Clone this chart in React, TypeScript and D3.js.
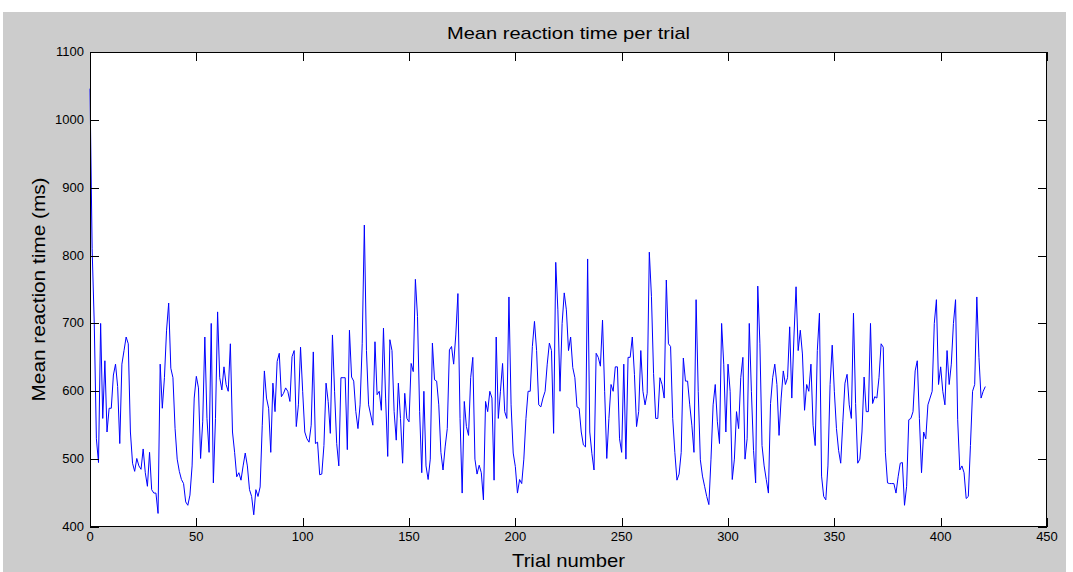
import React, { useEffect, useRef } from 'react';
import * as d3 from 'd3';

// mean reaction time (ms) per trial in blocks of ~40 trials
const rtTrials0to37 = [
  1046, 810, 700, 530, 495, 700, 560, 645, 540, 575,
  575, 624, 640, 607, 523, 640, 660, 680, 670, 540,
  494, 482, 501, 490, 485, 515, 480, 460, 510, 455,
  450, 450, 420, 640, 575, 620, 690, 730];
const rtTrials38to75 = [
  634, 620, 545, 500, 482, 470, 464, 437, 432, 447,
  490, 590, 622, 605, 501, 555, 680, 560, 510, 700,
  465, 560, 717, 620, 602, 636, 610, 600, 670, 540,
  510, 474, 480, 469, 490, 509, 490, 455];
const rtTrials76to113 = [
  445, 418, 455, 445, 459, 550, 630, 590, 575, 510,
  612, 570, 644, 656, 592, 597, 605, 600, 585, 651,
  660, 548, 580, 665, 600, 540, 530, 525, 550, 658,
  523, 525, 477, 478, 520, 612, 585, 538];
const rtTrials114to152 = [
  683, 600, 523, 490, 620, 620, 620, 514, 690, 621,
  615, 570, 545, 580, 670, 845, 660, 580, 565, 550,
  673, 595, 600, 572, 693, 590, 504, 676, 660, 570,
  528, 612, 560, 494, 597, 560, 555, 641, 629];
const rtTrials153to191 = [
  765, 710, 570, 480, 600, 490, 470, 500, 671, 617,
  615, 580, 510, 484, 518, 545, 661, 666, 640, 683,
  744, 560, 450, 585, 548, 535, 620, 650, 500, 478,
  491, 480, 440, 585, 570, 600, 590, 469, 680];
const rtTrials192to230 = [
  560, 600, 641, 570, 560, 739, 580, 509, 489, 450,
  470, 464, 500, 560, 600, 600, 666, 703, 660, 580,
  577, 590, 600, 640, 671, 660, 538, 790, 720, 600,
  700, 745, 720, 660, 680, 635, 620, 577, 575];
const rtTrials231to268 = [
  540, 521, 518, 795, 540, 508, 484, 656, 650, 637,
  705, 600, 501, 560, 610, 600, 636, 636, 530, 510,
  640, 500, 650, 650, 680, 625, 548, 570, 660, 600,
  580, 597, 805, 740, 626, 560, 560, 620];
const rtTrials269to306 = [
  610, 590, 764, 670, 666, 560, 510, 469, 478, 510,
  649, 615, 615, 580, 550, 510, 735, 600, 499, 475,
  460, 445, 433, 500, 580, 610, 555, 523, 700, 640,
  540, 640, 600, 470, 500, 570, 545, 620];
const rtTrials307to345 = [
  650, 500, 530, 700, 600, 513, 465, 755, 670, 520,
  490, 470, 450, 582, 620, 640, 610, 535, 590, 630,
  610, 620, 695, 590, 680, 754, 660, 690, 655, 572,
  610, 600, 640, 550, 520, 660, 715, 475, 445];
const rtTrials346to384 = [
  440, 490, 610, 668, 600, 545, 513, 494, 555, 612,
  625, 580, 560, 715, 582, 494, 500, 540, 621, 570,
  570, 700, 582, 592, 590, 620, 670, 665, 510, 465,
  464, 464, 464, 450, 474, 494, 495, 432, 460];
const rtTrials385to421 = [
  558, 560, 570, 630, 645, 560, 480, 540, 530, 580,
  590, 600, 700, 735, 610, 636, 600, 580, 660, 610,
  640, 700, 735, 558, 484, 490, 480, 442, 445, 520,
  600, 610, 739, 650, 590, 600, 607];

const xTicks = [0, 50, 100, 150, 200, 250, 300, 350, 400, 450];
const yTicks = [400, 500, 600, 700, 800, 900, 1000, 1100];

const title = 'Mean reaction time per trial';
const xLabel = 'Trial number';
const yLabel = 'Mean reaction time (ms)';

const App = () => {
  const ref = useRef<SVGSVGElement>(null);

  useEffect(() => {
    const rt = [].concat(
      rtTrials0to37, rtTrials38to75, rtTrials76to113, rtTrials114to152,
      rtTrials153to191, rtTrials192to230, rtTrials231to268, rtTrials269to306,
      rtTrials307to345, rtTrials346to384, rtTrials385to421
    ) as number[];

    const left = 90, right = 1047, top = 52, bottom = 527;
    const font = '"Liberation Sans", Arial, sans-serif';

    const x = d3.scaleLinear().domain([0, 450]).range([left, right]);
    const y = d3.scaleLinear().domain([400, 1100]).range([bottom, top]);

    const svg = d3.select(ref.current);
    svg.selectAll('*').remove();

    // figure background
    svg.append('rect')
      .attr('x', 3).attr('y', 12)
      .attr('width', 1063).attr('height', 560)
      .attr('fill', '#cccccc');

    // axes area
    svg.append('rect')
      .attr('x', left).attr('y', top)
      .attr('width', right - left).attr('height', bottom - top)
      .attr('fill', '#ffffff');

    const line = d3.line<number>()
      .x((d, i) => x(i))
      .y(d => y(d));

    svg.append('path')
      .datum(rt)
      .attr('d', line)
      .attr('fill', 'none')
      .attr('stroke', '#0000ff')
      .attr('stroke-width', 1);

    const tickLen = 9;
    const g = svg.append('g').attr('stroke', '#000').attr('stroke-width', 1);

    xTicks.forEach(t => {
      const px = Math.round(x(t)) + 0.5;
      g.append('line').attr('x1', px).attr('x2', px).attr('y1', bottom).attr('y2', bottom - tickLen);
      g.append('line').attr('x1', px).attr('x2', px).attr('y1', top).attr('y2', top + tickLen);
    });
    yTicks.forEach(t => {
      const py = Math.round(y(t)) + 0.5;
      g.append('line').attr('x1', left).attr('x2', left + tickLen).attr('y1', py).attr('y2', py);
      g.append('line').attr('x1', right).attr('x2', right - tickLen).attr('y1', py).attr('y2', py);
    });

    svg.append('rect')
      .attr('x', left + 0.5).attr('y', top + 0.5)
      .attr('width', right - left - 1).attr('height', bottom - top - 1)
      .attr('fill', 'none')
      .attr('stroke', '#000')
      .attr('stroke-width', 1);

    svg.append('g').selectAll('text')
      .data(xTicks)
      .enter().append('text')
      .attr('x', d => x(d))
      .attr('y', bottom + 14)
      .attr('text-anchor', 'middle')
      .attr('font-family', font)
      .attr('font-size', 13)
      .text(d => d);

    svg.append('g').selectAll('text')
      .data(yTicks)
      .enter().append('text')
      .attr('x', left - 6)
      .attr('y', d => y(d) + 4)
      .attr('text-anchor', 'end')
      .attr('font-family', font)
      .attr('font-size', 13)
      .text(d => d);

    svg.append('text')
      .attr('x', (left + right) / 2)
      .attr('y', 39)
      .attr('text-anchor', 'middle')
      .attr('font-family', font)
      .attr('font-size', 17)
      .attr('textLength', 243)
      .attr('lengthAdjust', 'spacingAndGlyphs')
      .text(title);

    svg.append('text')
      .attr('x', (left + right) / 2)
      .attr('y', 567)
      .attr('text-anchor', 'middle')
      .attr('font-family', font)
      .attr('font-size', 19)
      .attr('textLength', 113)
      .attr('lengthAdjust', 'spacingAndGlyphs')
      .text(xLabel);

    svg.append('text')
      .attr('transform', `translate(45, ${(top + bottom) / 2}) rotate(-90)`)
      .attr('text-anchor', 'middle')
      .attr('font-family', font)
      .attr('font-size', 19)
      .attr('textLength', 224)
      .attr('lengthAdjust', 'spacingAndGlyphs')
      .text(yLabel);
  }, []);

  return (
    <div style={{ position: 'absolute', left: 0, top: 0 }}>
      <svg ref={ref} width={1073} height={572} style={{ display: 'block', background: '#fff' }} />
    </div>
  );
};

export default App;
